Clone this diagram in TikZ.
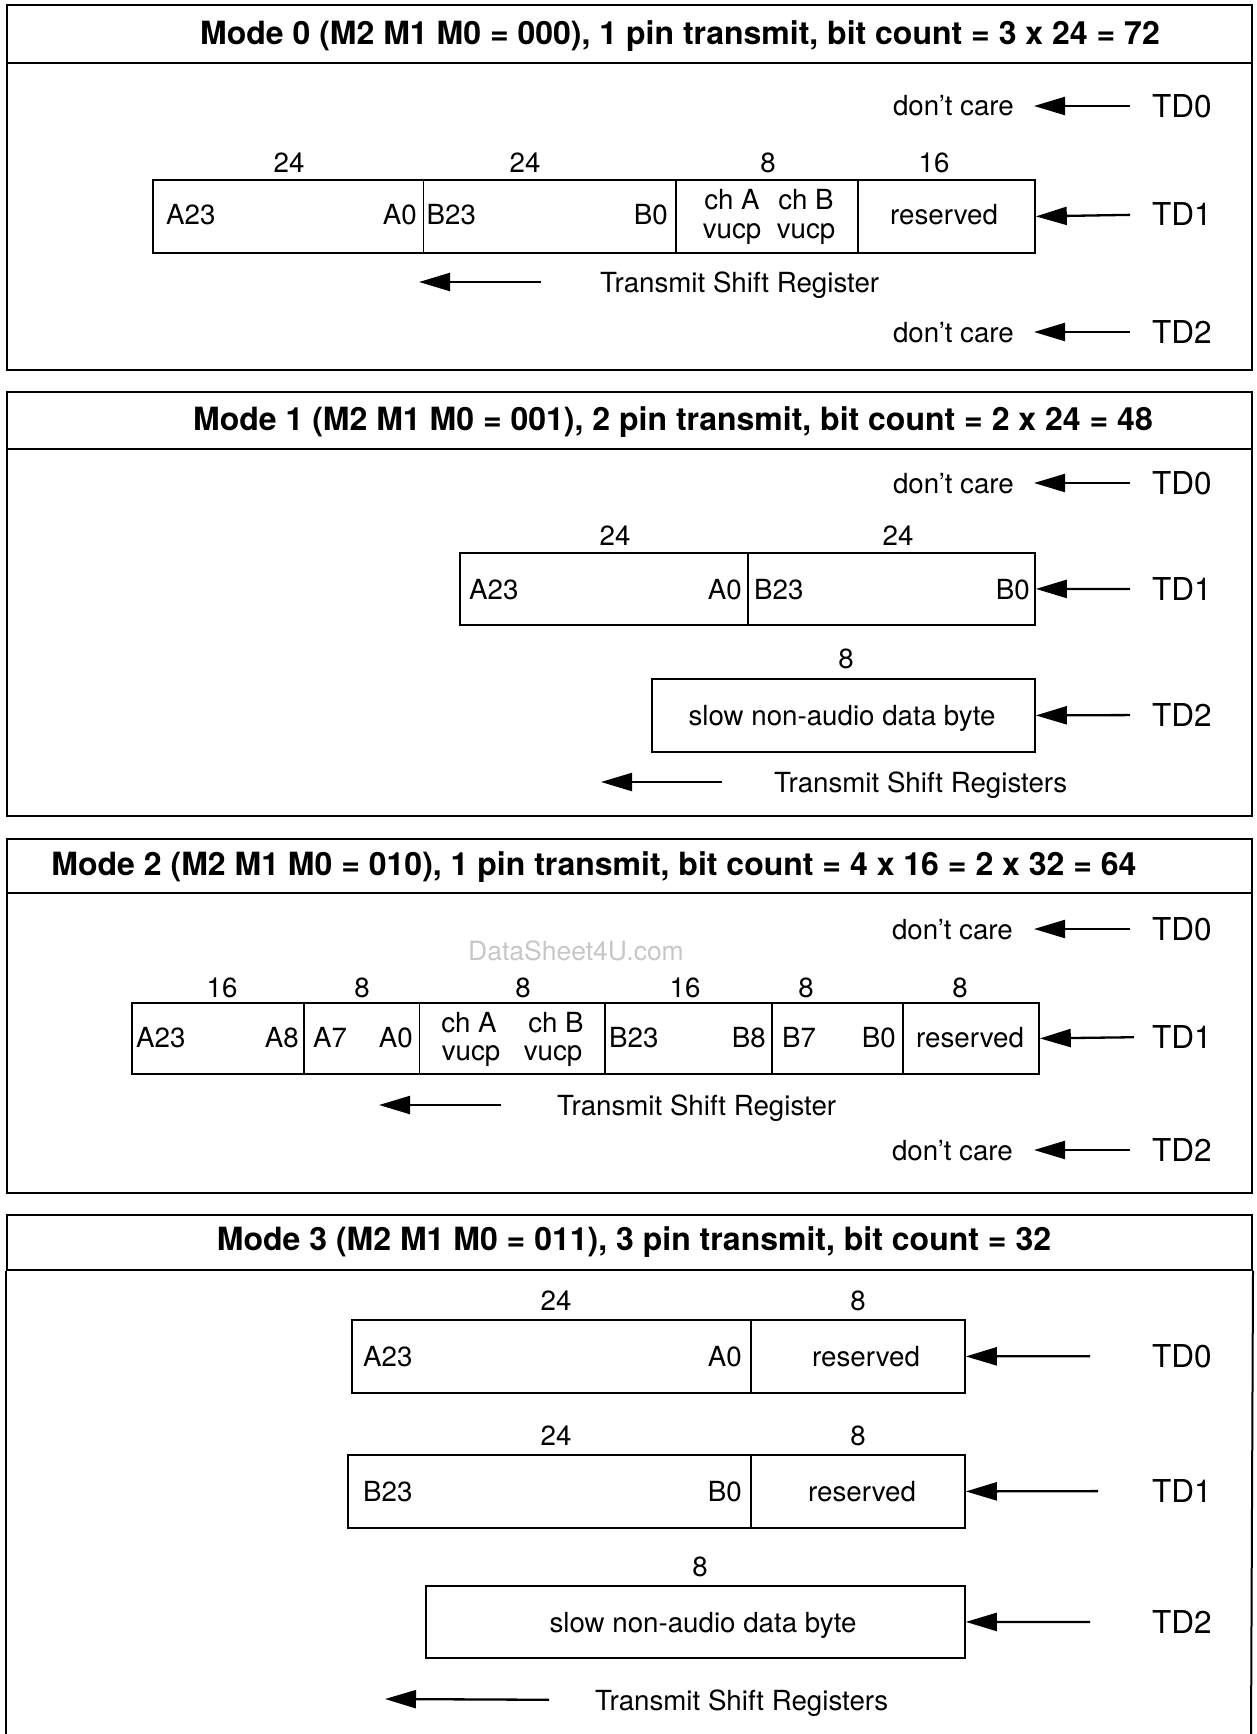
\documentclass[tikz,border=0pt]{standalone}
\usepackage{fontspec}
\setmainfont{TeX Gyre Heros}
\usetikzlibrary{arrows.meta}
\newcommand\bodyfnt{\fontsize{27.7}{32}\selectfont}
\newcommand\tdfnt{\fontsize{31.5}{36}\selectfont}
\newcommand\ttlfnt{\fontsize{32}{38}\selectfont\bfseries}
\tikzset{
  lbl/.style={inner sep=0pt, font=\bodyfnt, text height=20pt, text depth=0pt},
  pin/.style={inner sep=0pt, font=\tdfnt, text height=22.6pt, text depth=0pt, anchor=west},
  ttl/.style={inner sep=0pt, font=\ttlfnt, text height=23pt, text depth=0pt},
  wm/.style={inner sep=0pt, font=\fontsize{26.5}{30}\selectfont, text height=19pt, text depth=0pt, text=black!22},
  cell/.style={draw, line width=1.8pt, inner sep=0pt, anchor=north west},
  frame/.style={draw, line width=2pt, inner sep=0pt, anchor=north west, minimum width=1245pt},
  arr/.style={line width=2.3pt, -{Triangle[length=31pt,width=18pt]}},
}
\begin{document}
\begin{tikzpicture}[x=1pt,y=-1pt]
\useasboundingbox (0,0) rectangle (1257,1734);
% ================= Mode 0 =================
\node[frame, minimum height=58pt] (h0) at (6,4) {};
\node[frame, minimum height=307pt] (b0) at (6,62) {};
\node[ttl] (t0) at (680,33) {Mode 0 (M2 M1 M0 = 000), 1 pin transmit, bit count = 3 x 24 = 72};
\node[lbl, anchor=east] (dc00) at (1014,106) {don’t care};
\node[pin] (td00) at (1152,106) {TD0};
\node[lbl] (n01) at (289,162) {24};
\node[lbl] (n02) at (525,162) {24};
\node[lbl] (n03) at (768,162) {8};
\node[lbl] (n04) at (934,162) {16};
\node[cell, minimum width=270.5pt, minimum height=73pt] (c01) at (152,179) {};
\node[cell, minimum width=252.5pt, minimum height=73pt] (c02) at (422.5,179) {};
\node[cell, minimum width=182pt, minimum height=73pt] (c03) at (675,179) {};
\node[cell, minimum width=177pt, minimum height=73pt] (c04) at (857,179) {};
\node[lbl, anchor=west] (a023) at (166,214.5) {A23};
\node[lbl, anchor=east] (a00) at (417,214.5) {A0};
\node[lbl, anchor=west] (b023) at (426.5,214.5) {B23};
\node[lbl, anchor=east] (b00) at (668,214.5) {B0};
\node[lbl] (cha0) at (732,199) {ch A};
\node[lbl] (chb0) at (806,199) {ch B};
\node[lbl] (va0) at (732,228) {vucp};
\node[lbl] (vb0) at (806,228) {vucp};
\node[lbl] (r0) at (944,214.5) {reserved};
\node[pin] (td01) at (1152,214.5) {TD1};
\node[lbl, anchor=west] (tsr0) at (600,282) {Transmit Shift Register};
\coordinate (tip0) at (419,282);
\node[lbl, anchor=east] (dc02) at (1014,332) {don’t care};
\node[pin] (td02) at (1152,332) {TD2};
\draw[arr, shorten <=22pt, shorten >=20pt] (td00.west) -- (dc00.east);
\draw[arr, shorten <=22pt] (td01.west) -- (c04.east);
\draw[arr, shorten <=59pt] (tsr0.west) -- (tip0);
\draw[arr, shorten <=22pt, shorten >=20pt] (td02.west) -- (dc02.east);
% ================= Mode 1 =================
\node[frame, minimum height=57pt] (h1) at (6,391) {};
\node[frame, minimum height=367pt] (b1) at (6,448) {};
\node[ttl] (t1) at (673,419) {Mode 1 (M2 M1 M0 = 001), 2 pin transmit, bit count = 2 x 24 = 48};
\node[lbl, anchor=east] (dc10) at (1014,483) {don’t care};
\node[pin] (td10) at (1152,483) {TD0};
\node[lbl] (n11) at (615,535) {24};
\node[lbl] (n12) at (898,535) {24};
\node[cell, minimum width=288pt, minimum height=72pt] (c11) at (459,552) {};
\node[cell, minimum width=287pt, minimum height=72pt] (c12) at (747,552) {};
\node[lbl, anchor=west] (a123) at (469,589) {A23};
\node[lbl, anchor=east] (a10) at (742,589) {A0};
\node[lbl, anchor=west] (b123) at (754,589) {B23};
\node[lbl, anchor=east] (b10) at (1030,589) {B0};
\node[pin] (td11) at (1152,589) {TD1};
\node[lbl] (n13) at (846,658) {8};
\node[cell, minimum width=383pt, minimum height=73pt] (c13) at (651,678) {};
\node[lbl] (s1) at (842,715) {slow non-audio data byte};
\node[pin] (td12) at (1152,715) {TD2};
\node[lbl, anchor=west] (tsr1) at (774,782) {Transmit Shift Registers};
\coordinate (tip1) at (601,782);
\draw[arr, shorten <=22pt, shorten >=20pt] (td10.west) -- (dc10.east);
\draw[arr, shorten <=22pt] (td11.west) -- (c12.east);
\draw[arr, shorten <=22pt] (td12.west) -- (c13.east);
\draw[arr, shorten <=52pt] (tsr1.west) -- (tip1);
% ================= Mode 2 =================
\node[frame, minimum height=54pt] (h2) at (6,838) {};
\node[frame, minimum height=300pt] (b2) at (6,892) {};
\node[ttl] (t2) at (594,864) {Mode 2 (M2 M1 M0 = 010), 1 pin transmit, bit count = 4 x 16 = 2 x 32 = 64};
\node[lbl, anchor=east] (dc20) at (1013,929) {don’t care};
\node[pin] (td20) at (1152,929) {TD0};
\node[wm] (wm2) at (576,951) {DataSheet4U.com};
\node[lbl] (n21) at (222,987) {16};
\node[lbl] (n22) at (362,987) {8};
\node[lbl] (n23) at (523,987) {8};
\node[lbl] (n24) at (685,987) {16};
\node[lbl] (n25) at (806,987) {8};
\node[lbl] (n26) at (960,987) {8};
\node[cell, minimum width=172pt, minimum height=71pt] (c21) at (131,1002) {};
\node[cell, minimum width=115.5pt, minimum height=71pt] (c22) at (303,1002) {};
\node[cell, minimum width=185.5pt, minimum height=71pt] (c23) at (418.5,1002) {};
\node[cell, minimum width=167pt, minimum height=71pt] (c24) at (604,1002) {};
\node[cell, minimum width=131pt, minimum height=71pt] (c25) at (771,1002) {};
\node[cell, minimum width=136pt, minimum height=71pt] (c26) at (902,1002) {};
\node[lbl, anchor=west] (a223) at (136,1037) {A23};
\node[lbl, anchor=east] (a28) at (299,1037) {A8};
\node[lbl, anchor=west] (a27) at (313,1037) {A7};
\node[lbl, anchor=east] (a20) at (413,1037) {A0};
\node[lbl] (cha2) at (469,1022) {ch A};
\node[lbl] (chb2) at (556,1022) {ch B};
\node[lbl] (va2) at (471,1050) {vucp};
\node[lbl] (vb2) at (553,1050) {vucp};
\node[lbl, anchor=west] (b223) at (609,1037) {B23};
\node[lbl, anchor=east] (b28) at (766,1037) {B8};
\node[lbl, anchor=west] (b27) at (782,1037) {B7};
\node[lbl, anchor=east] (b20) at (896,1037) {B0};
\node[lbl] (r2) at (970,1037) {reserved};
\node[pin] (td21) at (1152,1037) {TD1};
\node[lbl, anchor=west] (tsr2) at (557,1105) {Transmit Shift Register};
\coordinate (tip2) at (379,1105);
\node[lbl, anchor=east] (dc22) at (1013,1150) {don’t care};
\node[pin] (td22) at (1152,1150) {TD2};
\draw[arr, shorten <=22pt, shorten >=21pt] (td20.west) -- (dc20.east);
\draw[arr, shorten <=18pt] (td21.west) -- (c26.east);
\draw[arr, shorten <=56pt] (tsr2.west) -- (tip2);
\draw[arr, shorten <=22pt, shorten >=21pt] (td22.west) -- (dc22.east);
% ================= Mode 3 =================
\node[frame, minimum height=55pt] (h3) at (6,1213.5) {};
\draw[line width=2pt] (h3.south west) -- (6,1740);
\draw[line width=2pt] (h3.south east) -- (1251,1740);
\node[ttl] (t3) at (634,1239) {Mode 3 (M2 M1 M0 = 011), 3 pin transmit, bit count = 32};
\node[lbl] (n31) at (556,1300) {24};
\node[lbl] (n32) at (858,1300) {8};
\node[cell, minimum width=399pt, minimum height=73pt] (c31) at (351,1319) {};
\node[cell, minimum width=214pt, minimum height=73pt] (c32) at (750,1319) {};
\node[lbl, anchor=west] (a323) at (363,1356) {A23};
\node[lbl, anchor=east] (a30) at (742,1356) {A0};
\node[lbl] (r31) at (866,1356) {reserved};
\node[pin] (td30) at (1152,1356) {TD0};
\node[lbl] (n33) at (556,1435) {24};
\node[lbl] (n34) at (858,1435) {8};
\node[cell, minimum width=403pt, minimum height=73pt] (c33) at (347,1454) {};
\node[cell, minimum width=214pt, minimum height=73pt] (c34) at (750,1454) {};
\node[lbl, anchor=west] (b323) at (363,1491) {B23};
\node[lbl, anchor=east] (b30) at (742,1491) {B0};
\node[lbl] (r32) at (862,1491) {reserved};
\node[pin] (td31) at (1152,1491) {TD1};
\node[lbl] (n35) at (700,1566) {8};
\node[cell, minimum width=539pt, minimum height=72pt] (c35) at (425,1585) {};
\node[lbl] (s3) at (703,1622) {slow non-audio data byte};
\node[pin] (td32) at (1152,1622) {TD2};
\node[lbl, anchor=west] (tsr3) at (595,1700) {Transmit Shift Registers};
\coordinate (tip3) at (385,1699);
\draw[arr, shorten <=62pt] (td30.west) -- (c32.east);
\draw[arr, shorten <=54pt] (td31.west) -- (c34.east);
\draw[arr, shorten <=62pt] (td32.west) -- (c35.east);
\draw[arr, shorten <=46pt] (tsr3.west) -- (tip3);
\end{tikzpicture}
\end{document}
